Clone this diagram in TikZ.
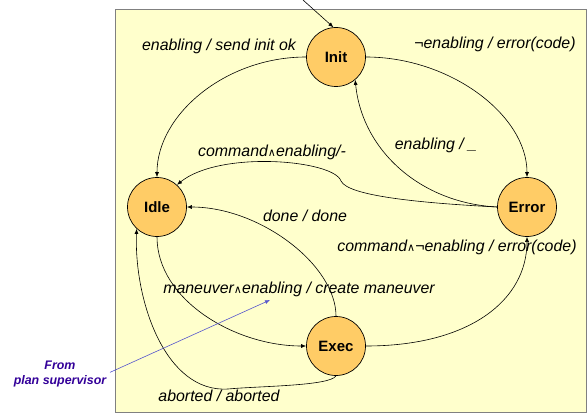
\documentclass[tikz,border=0pt]{standalone}
\usepackage{fontspec}
\setmainfont{Liberation Sans}
\newfontfamily\symfont{DejaVu Sans}
\usetikzlibrary{arrows.meta}
\definecolor{panel}{HTML}{FFFFCC}
\definecolor{statefill}{HTML}{FFCC66}
\definecolor{notecol}{HTML}{330099}
\definecolor{pointer}{HTML}{5555CC}
\newcommand{\andsym}{{\symfont\fontsize{11}{11}\selectfont ∧}}
\newcommand{\notsym}{¬}
\begin{document}
\begin{tikzpicture}[x=1pt,y=-1pt,
  state/.style={circle,draw=black,line width=0.7pt,fill=statefill,minimum size=59pt,
    inner sep=0pt,font=\fontsize{15}{15}\selectfont\bfseries},
  lbl/.style={font=\fontsize{15.9}{16}\selectfont\itshape,inner sep=0pt},
  tr/.style={draw=black,line width=0.6pt,-{Latex[length=5pt,width=4pt]}},
  note/.style={font=\fontsize{12.4}{15}\selectfont\bfseries\itshape,text=notecol,
    align=center,inner sep=0pt},
]
\useasboundingbox (0,0) rectangle (588,417);
% background panel
\node[draw=gray,fill=panel,line width=1pt,minimum width=471pt,minimum height=403pt,
  inner sep=0pt,anchor=north west] (panel) at (115,9) {};

% states
\node[state] (init)  at (336,57)  {Init};
\node[state] (idle)  at (157,207) {Idle};
\node[state] (error) at (527,207) {Error};
\node[state] (exec)  at (336,346) {Exec};

% initial transition
\coordinate (start) at (303,0);
\draw[tr] (start) -- (init.95);

% transitions
\draw[tr] (init.west) .. controls (225,57) and (157,115) .. (idle.north);
\draw[tr] (init.east) .. controls (450,57) and (527,115) .. (error.north);
\draw[tr] (error.west) .. controls (420,203) and (362,150) .. (init.-50);
\draw[tr] (error.west) .. controls (420,203) and (348,196) .. (341,181)
  .. controls (334,160) and (220,150) .. (idle.48);
\draw[tr] (exec.north) .. controls (336,265) and (260,207) .. (idle.east);
\draw[tr] (idle.south) .. controls (157,300) and (235,346) .. (exec.west);
\draw[tr] (exec.east) .. controls (470,346) and (527,300) .. (error.south);
\draw[tr] (exec.south) .. controls (330,386) and (260,386) .. (228,389)
  .. controls (165,393) and (134,300) .. (idle.-133);

% transition labels
\node[lbl] (l1) at (219,46)  {enabling / send init ok};
\node[lbl] (l2) at (495,44)  {\notsym enabling / error(code)};
\node[lbl] (l3) at (436,145) {enabling / \_};
\node[lbl] (l4) at (272,152) {command\andsym enabling/-};
\node[lbl] (l5) at (305,216) {done / done};
\node[lbl] (l6) at (457,247) {command\andsym\notsym enabling / error(code)};
\node[lbl] (l7) at (299,289) {maneuver\andsym enabling / create maneuver};
\node[lbl] (l8) at (219,396) {aborted / aborted};

% external input
\node[note] (src) at (60,374) {From\\plan supervisor};
\coordinate (ptr) at (270,300);
\draw[pointer,line width=0.6pt,-{Latex[length=5pt,width=4pt]},shorten <=4pt] (src.east) -- (ptr);
\end{tikzpicture}
\end{document}
